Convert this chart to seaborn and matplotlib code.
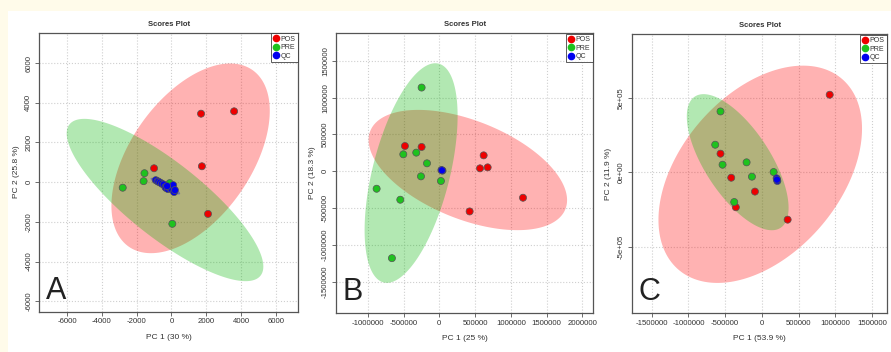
"""
PCA scores plots (A, B, C) redrawn with seaborn
"""

import numpy as np
import pandas as pd
import matplotlib
matplotlib.use('Agg')
import matplotlib.pyplot as plt
import seaborn as sns

# ---- data ----
GROUPS = ['POS', 'PRE', 'QC']
COLORS = {'POS': '#ee0000', 'PRE': '#1ec21e', 'QC': '#0000ee'}
FILLS = {'POS': '#ff0000', 'PRE': '#00b400', 'QC': '#0000ff'}

# panel A
a_pos_x = [1700, 3600, 1750, 2100, -1000]
a_pos_y = [3450, 3570, 800, -1600, 700]
a_pre_x = [-2800, -1550, -1600, -100, 50]
a_pre_y = [-280, 450, 50, -50, -2100]
a_qc_x = [-900, -800, -750, -650, -550, -450, -350, -300, -200, -100, 0, 100, 150, 200, -250]
a_qc_y = [100, 50, 20, -20, -80, -120, -250, -300, -350, -300, -350, -150, -500, -400, -200]

# panel B
b_pos_x = [-480000, -247000, 620000, 569000, 676000, 1170000, 424000]
b_pos_y = [344000, 331000, 217000, 41000, 54000, -358000, -544000]
b_pre_x = [-247000, -503000, -322000, -172000, -256000, 23000, -876000, -545000, -662000]
b_pre_y = [1137000, 231000, 254000, 109000, -68000, -131000, -236000, -385000, -1178000]
b_qc_x = [30000, 45000, 37000]
b_qc_y = [18000, 10000, 14000]

# panel C
c_pos_x = [923000, -564000, -418000, -95000, -355000, 350000]
c_pos_y = [520000, 125000, -36000, -129000, -234000, -317000]
c_pre_x = [-564000, -636000, -536000, -209000, -136000, 159000, -377000]
c_pre_y = [408000, 185000, 51000, 67000, -29000, 2000, -199000]
c_qc_x = [200000, 210000, 205000]
c_qc_y = [-40000, -58000, -49000]

# 95% ellipses: centre x, centre y, half-width x, half-height y, correlation
a_ell = {'POS': (1100, 1200, 4550, 4780, 0.5),
         'PRE': (-370, -900, 5650, 4090, -0.82),
         'QC': (-350, -200, 850, 420, -0.9)}
b_ell = {'POS': (399000, 18000, 1387000, 816000, -0.5),
         'PRE': (-394000, -23000, 650000, 1490000, 0.52)}
c_ell = {'POS': (-23000, -13000, 1386000, 728000, 0.42),
         'PRE': (-330000, 68000, 693000, 456000, -0.67)}

PANELS = [
    dict(tag='A', xlab='PC 1 (30 %)', ylab='PC 2 (25.8 %)',
         pts={'POS': (a_pos_x, a_pos_y), 'PRE': (a_pre_x, a_pre_y), 'QC': (a_qc_x, a_qc_y)},
         ell=a_ell, xlim=(-7600, 7300), ylim=(-6520, 7530),
         xticks=[-6000, -4000, -2000, 0, 2000, 4000, 6000],
         yticks=[-6000, -4000, -2000, 0, 2000, 4000, 6000], yfmt='{:.0f}',
         box=[0.044, 0.115, 0.291, 0.792]),
    dict(tag='B', xlab='PC 1 (25 %)', ylab='PC 2 (18.3 %)',
         pts={'POS': (b_pos_x, b_pos_y), 'PRE': (b_pre_x, b_pre_y), 'QC': (b_qc_x, b_qc_y)},
         ell=b_ell, xlim=(-1445000, 2154000), ylim=(-1921000, 1876000),
         xticks=[-1000000, -500000, 0, 500000, 1000000, 1500000, 2000000],
         yticks=[-1500000, -1000000, -500000, 0, 500000, 1000000, 1500000], yfmt='{:.0f}',
         box=[0.377, 0.111, 0.289, 0.795]),
    dict(tag='C', xlab='PC 1 (53.9 %)', ylab='PC 2 (11.9 %)',
         pts={'POS': (c_pos_x, c_pos_y), 'PRE': (c_pre_x, c_pre_y), 'QC': (c_qc_x, c_qc_y)},
         ell=c_ell, xlim=(-1773000, 1709000), ylim=(-942000, 926000),
         xticks=[-1500000, -1000000, -500000, 0, 500000, 1000000, 1500000],
         yticks=[-500000, 0, 500000], yfmt='sci',
         box=[0.709, 0.111, 0.287, 0.792]),
]


def ellipse_xy(cx, cy, sx, sy, r, n=200):
    """Outline of an ellipse given by centre, x/y half extents and correlation."""
    t = np.linspace(0, 2 * np.pi, n)
    x = cx + sx * np.cos(t)
    y = cy + sy * (r * np.cos(t) + np.sqrt(1 - r ** 2) * np.sin(t))
    return x, y


def sci_label(v):
    if v == 0:
        return '0e+00'
    return f'{v:.0e}'


sns.set_style('white')
plt.rcParams['font.family'] = ['Liberation Sans', 'DejaVu Sans']

fig = plt.figure(figsize=(8.91, 3.52), dpi=100)
fig.patch.set_facecolor('#fffbea')
bg = plt.Rectangle((8 / 891, 0), 1, 1 - 11 / 352, transform=fig.transFigure,
                   facecolor='white', edgecolor='none', zorder=-10)
fig.patches.append(bg)

for p in PANELS:
    ax = fig.add_axes(p['box'])
    ax.set_facecolor('white')

    for g, (cx, cy, sx, sy, r) in p['ell'].items():
        ex, ey = ellipse_xy(cx, cy, sx, sy, r)
        ax.fill(ex, ey, color=FILLS[g], alpha=0.3 if g != 'QC' else 0.35,
                linewidth=0, zorder=1)

    rows = []
    for g in GROUPS:
        xs, ys = p['pts'][g]
        rows += [{'x': x, 'y': y, 'group': g} for x, y in zip(xs, ys)]
    df = pd.DataFrame(rows)
    sns.scatterplot(data=df, x='x', y='y', hue='group', hue_order=GROUPS, palette=COLORS,
                    s=26, edgecolor='#555555', linewidth=0.5, ax=ax, zorder=3, legend=False)

    ax.set_xlim(p['xlim'])
    ax.set_ylim(p['ylim'])
    ax.set_xticks(p['xticks'])
    ax.set_yticks(p['yticks'])
    ax.set_xticklabels([f'{v:.0f}' for v in p['xticks']], fontsize=5.6, color='#333333')
    if p['yfmt'] == 'sci':
        ylabels = [sci_label(v) for v in p['yticks']]
    else:
        ylabels = [f'{v:.0f}' for v in p['yticks']]
    ax.set_yticklabels(ylabels, fontsize=5.6, color='#333333', rotation=90, va='center')
    ax.tick_params(axis='both', direction='out', length=3, width=0.6, color='#555555', pad=2,
                   bottom=True, left=True)
    ax.grid(True, color='#cfcfcf', linestyle=':', linewidth=0.8)
    ax.set_axisbelow(True)
    for sp in ax.spines.values():
        sp.set_color('#555555')
        sp.set_linewidth(0.9)

    ax.set_xlabel(p['xlab'], fontsize=6, color='#333333', labelpad=6)
    ax.set_ylabel(p['ylab'], fontsize=6, color='#333333', labelpad=4)
    ax.set_title('Scores Plot', fontsize=5.5, fontweight='bold', color='#333333', pad=5)

    ax.text(0.025, 0.02, p['tag'], transform=ax.transAxes, fontsize=22, color='#222222',
            ha='left', va='bottom', zorder=5)

    handles = [plt.Line2D([], [], marker='o', linestyle='none', markersize=4.5,
                          markerfacecolor=COLORS[g], markeredgecolor=COLORS[g]) for g in GROUPS]
    leg = ax.legend(handles, GROUPS, loc='upper right', fontsize=5, frameon=True,
                    fancybox=False, borderpad=0.35, handletextpad=0.15, handlelength=0.9,
                    labelspacing=0.2, borderaxespad=0.1)
    leg.get_frame().set_edgecolor('#333333')
    leg.get_frame().set_linewidth(0.7)
    for t in leg.get_texts():
        t.set_color('#333333')

plt.savefig('out.png', dpi=100, facecolor=fig.get_facecolor())
plt.close()
